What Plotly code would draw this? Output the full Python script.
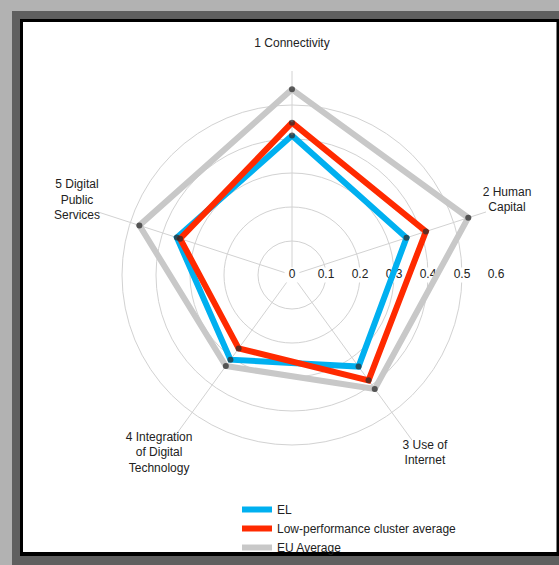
import plotly.graph_objects as go

# ---- data ----
categories = [
    "1 Connectivity",
    "2 Human<br>Capital",
    "3 Use of<br>Internet",
    "4 Integration<br>of Digital<br>Technology",
    "5 Digital<br>Public<br>Services",
]
el_values = [0.410, 0.354, 0.333, 0.308, 0.356]
low_values = [0.448, 0.414, 0.383, 0.267, 0.346]
eu_values = [0.546, 0.545, 0.414, 0.331, 0.472]
radial_tickvals = [0, 0.1, 0.2, 0.3, 0.4, 0.5, 0.6]
radial_ticktext = ["0", "0.1", "0.2", "0.3", "0.4", "0.5", "0.6"]

series_names = ["EL", "Low-performance cluster average", "EU Average"]

# ---- styling ----
FONT = "Arial, Liberation Sans, sans-serif"
W, H = 559, 565
n = len(categories)
angles = [i * 360 / n for i in range(n)]
RMAX = 0.6
LABEL_R = 0.665
RADIAL_LABEL_THETA = 90  # 3 o'clock with clockwise rotation from top
cx, cy, R = 292, 275, 204      # main polar centre / radius (px)
cy2, R2 = 270.5, 245            # label polar centre / radius (px)


def closed(v):
    return list(v) + [v[0]]


def px(x):
    return x / W


def py(y):
    return 1 - y / H


fig = go.Figure()

# radial tick labels with white background (drawn below series)
fig.add_trace(go.Scatterpolar(
    r=radial_tickvals,
    theta=[RADIAL_LABEL_THETA] * len(radial_tickvals),
    mode="markers+text",
    text=radial_ticktext,
    textposition="middle center",
    textfont=dict(family=FONT, size=12, color="#222222"),
    marker=dict(symbol="square", size=15, color="white"),
    showlegend=False,
    hoverinfo="skip",
))

series = [
    (eu_values, series_names[2], "#c8c8c8", 3),
    (el_values, series_names[0], "#00b0f0", 1),
    (low_values, series_names[1], "#ff2a00", 2),
]
for vals, name, color, rank in series:
    fig.add_trace(go.Scatterpolar(
        r=closed(vals), theta=closed(angles), name=name,
        mode="lines", line=dict(color=color, width=6),
        legendrank=rank, legendgroup=name,
    ))
for vals, name, color, rank in series:
    fig.add_trace(go.Scatterpolar(
        r=vals, theta=angles, name=name, mode="markers",
        marker=dict(size=6, color="rgba(45,45,45,0.75)"),
        showlegend=False, legendgroup=name,
    ))

# category labels on an invisible, larger polar sharing the same centre
fig.add_trace(go.Scatterpolar(
    r=[LABEL_R] * n,
    theta=angles,
    mode="text",
    text=categories,
    textposition="middle center",
    textfont=dict(family=FONT, size=12, color="#222222"),
    showlegend=False,
    hoverinfo="skip",
    subplot="polar2",
))

shapes = [
    dict(type="rect", xref="paper", yref="paper", x0=px(12), x1=px(W), y0=py(H), y1=py(11),
         fillcolor="#5f5f5f", line=dict(width=0), layer="below"),
    dict(type="rect", xref="paper", yref="paper", x0=px(20), x1=px(W), y0=py(556), y1=py(19),
         fillcolor="#000000", line=dict(width=0), layer="below"),
    dict(type="rect", xref="paper", yref="paper", x0=px(23), x1=px(556.5), y0=py(552), y1=py(22),
         fillcolor="#ffffff", line=dict(width=0), layer="below"),
]

fig.update_layout(
    width=W, height=H,
    margin=dict(l=0, r=0, t=0, b=0),
    paper_bgcolor="#b2b2b2",
    plot_bgcolor="white",
    shapes=shapes,
    font=dict(family=FONT, size=12, color="#222222"),
    polar=dict(
        domain=dict(x=[px(cx - R), px(cx + R)], y=[py(cy + R), py(cy - R)]),
        bgcolor="rgba(0,0,0,0)",
        radialaxis=dict(
            range=[0, RMAX], tickvals=radial_tickvals, showticklabels=False,
            showline=False, ticks="", gridcolor="#d2d2d2", gridwidth=1,
        ),
        angularaxis=dict(
            rotation=90, direction="clockwise", tickvals=angles,
            showticklabels=False, ticks="", showline=False,
            gridcolor="#d2d2d2", gridwidth=1,
        ),
    ),
    polar2=dict(
        domain=dict(x=[px(cx - R2), px(cx + R2)], y=[py(cy2 + R2), py(cy2 - R2)]),
        bgcolor="rgba(0,0,0,0)",
        radialaxis=dict(range=[0, RMAX * R2 / R], visible=False),
        angularaxis=dict(rotation=90, direction="clockwise", visible=False),
    ),
    legend=dict(
        x=px(237), y=py(495), xanchor="left", yanchor="top",
        bgcolor="rgba(0,0,0,0)", borderwidth=0,
        font=dict(family=FONT, size=12, color="#222222"),
        traceorder="normal",
    ),
    showlegend=True,
)

fig.write_html(
    "out.html",
    config={"displayModeBar": False},
    post_script="document.body.style.margin='0';document.body.style.padding='0';"
                "document.body.style.overflow='hidden';",
)
